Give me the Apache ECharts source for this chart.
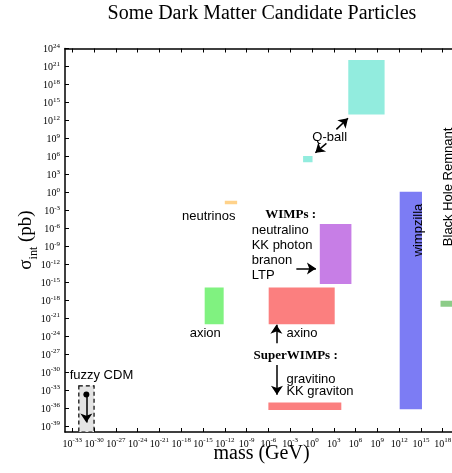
<!DOCTYPE html>
<html><head><meta charset="utf-8">
<script src="https://cdn.jsdelivr.net/npm/echarts@6/dist/echarts.min.js"></script>
<style>html,body{margin:0;padding:0;background:#fff}#c{width:452px;height:473px}</style>
</head><body><div id="c"></div>
<script>
// ---- data (mass in GeV, cross-section in pb) ----
const candidates = ['Q-ball (large)','Q-ball (small)','neutrinos','WIMPs','axion','axino','gravitino / KK graviton','wimpzilla','Black Hole Remnant','fuzzy CDM'];
const massLow   = [1e5, 6e-2, 1e-12, 1.2e1, 1.7e-15, 1.1e-6, 1e-6, 1.2e12, 5e17, 8e-33];
const massHigh  = [1e10, 1.2e0, 5e-11, 2.7e5, 7e-13, 1.35e3, 1.1e4, 1.4e15, 1e20, 1e-30];
const sigmaLow  = [1e13, 1e5, 1e-2, 5e-16, 1e-22, 1e-22, 4.5e-37, 6e-37, 8e-20, 1e-40];
const sigmaHigh = [1.2e22, 1.1e6, 4e-2, 5e-6, 1.3e-16, 1.3e-16, 8e-36, 1.2e0, 8e-19, 5e-33];
const colors    = ['#92ecde','#92ecde','#ffd28a','#c77ee6','#80f280','#fb7f7f','#fb7f7f','#7c7cf4','#8ccc88','#e4e4e4'];
const xTicks = [-33,-30,-27,-24,-21,-18,-15,-12,-9,-6,-3,0,3,6,9,12,15,18];
const yTicks = [-39,-36,-33,-30,-27,-24,-21,-18,-15,-12,-9,-6,-3,0,3,6,9,12,15,18,21,24];

const L = Math.log10;
const boxData = candidates.map((n,i)=>[L(massLow[i]),L(massHigh[i]),L(sigmaLow[i]),L(sigmaHigh[i])]);

const sans = 'Liberation Sans, Arial, sans-serif';
const serif = 'Liberation Serif, Times New Roman, serif';
const annotations = [
  {p:[2.44,9.14], t:'Q-ball', align:'center'},
  {p:[-14.22,-3.96], t:'neutrinos', align:'center'},
  {p:[-2.93,-3.8], t:'{h|WIMPs :}', align:'center'},
  {p:[-8.3,-6.3], t:'neutralino', align:'left'},
  {p:[-8.3,-8.9], t:'KK photon', align:'left'},
  {p:[-8.3,-11.4], t:'branon', align:'left'},
  {p:[-8.3,-13.8], t:'LTP', align:'left'},
  {p:[-14.7,-23.5], t:'axion', align:'center'},
  {p:[-3.52,-23.5], t:'axino', align:'left'},
  {p:[-2.24,-27.2], t:'{h|SuperWIMPs :}', align:'center'},
  {p:[-3.52,-31.2], t:'gravitino', align:'left'},
  {p:[-3.52,-33.3], t:'KK graviton', align:'left'},
  {p:[-33.36,-30.6], t:'fuzzy CDM', align:'left'},
  {p:[14.7,-6.3], t:'wimpzilla', align:'center', rot:true},
  {p:[18.75,0.9], t:'Black Hole Remnant', align:'center', rot:true}
];
const arrows = [
  [[3.36,10.51],[4.96,12.35]],
  [[1.99,8.17],[0.47,6.6]],
  [[-2.15,-12.7],[0.55,-12.7]],
  [[-4.9,-25.2],[-4.9,-22.1]],
  [[-4.82,-28.8],[-4.82,-33.8]]
];
const fuzzyArrow = [[-31.06,-33.73],[-31.06,-38.4]];

const supFmt = v => '{b|10}{s|' + v + '}';
const tickRich = {
  b:{fontFamily:serif,fontSize:10,color:'#000',lineHeight:12,verticalAlign:'bottom'},
  s:{fontFamily:serif,fontSize:7,color:'#000',lineHeight:12,verticalAlign:'top',padding:[0,0,6,0]}
};
function axisCommon(pos, showLabel, ticks, min, max){
  return {
    type:'value', position:pos, min:min, max:max,
    axisLine:{show:true,onZero:false,lineStyle:{color:'#000',width:1.5}},
    axisTick:{show:true,inside:true,length:4,customValues:ticks,lineStyle:{color:'#000',width:1}},
    axisLabel:{show:showLabel,customValues:ticks,formatter:supFmt,rich:tickRich,margin:5,hideOverlap:false},
    splitLine:{show:false}
  };
}

const chart = echarts.init(document.getElementById('c'), null, {renderer:'canvas'});
chart.setOption({
  animation:false,
  backgroundColor:'#fff',
  grid:{left:65, top:48.5, width:399.5, height:383.5, containLabel:false, outerBoundsMode:'none'},
  xAxis:[axisCommon('bottom',true,xTicks,-34,21), axisCommon('top',false,xTicks,-34,21)],
  yAxis:[axisCommon('left',true,yTicks,-40,24), axisCommon('right',false,yTicks,-40,24)],
  graphic:[
    {type:'text', x:262, y:14, style:{text:'Some Dark Matter Candidate Particles', font:'20px '+serif, fill:'#000', align:'center', verticalAlign:'middle'}},
    {type:'text', x:261.5, y:454, style:{text:'mass (GeV)', font:'20px '+serif, fill:'#000', align:'center', verticalAlign:'middle'}},
    {type:'text', x:25, y:240, rotation:Math.PI/2,
      style:{text:'{a|σ}{b|int}{a| (pb)}', align:'center', verticalAlign:'middle',
        rich:{a:{fontFamily:serif,fontSize:19,fill:'#000',lineHeight:22,verticalAlign:'bottom'},
              b:{fontFamily:serif,fontSize:12,fill:'#000',lineHeight:22,verticalAlign:'bottom',padding:[0,0,-4,0]}}}}
  ],
  series:[
    {
      type:'custom', data:boxData, clip:true, z:2,
      renderItem:function(params, api){
        const i = params.dataIndex;
        const p0 = api.coord([api.value(0), api.value(3)]);
        const p1 = api.coord([api.value(1), api.value(2)]);
        const fuzzy = candidates[i]==='fuzzy CDM';
        return {type:'rect', shape:{x:p0[0], y:p0[1], width:p1[0]-p0[0], height:p1[1]-p0[1]},
          style:{fill:colors[i], stroke: fuzzy?'#000':null, lineWidth: fuzzy?1.2:0, lineDash: fuzzy?[4,3]:null}};
      }
    },
    {
      type:'lines', coordinateSystem:'cartesian2d', z:5,
      symbol:['none','arrow'], symbolSize:[6,9],
      lineStyle:{color:'#000', width:1.5, opacity:1},
      data:arrows.map(c=>({coords:c}))
    },
    {
      type:'lines', coordinateSystem:'cartesian2d', z:5,
      symbol:['circle','arrow'], symbolSize:[6,9],
      lineStyle:{color:'#000', width:1.5, opacity:1},
      data:[{coords:fuzzyArrow}]
    },
    {
      type:'custom', data:annotations.map(a=>a.p), z:6, clip:false,
      renderItem:function(params, api){
        const a = annotations[params.dataIndex];
        const pt = api.coord([api.value(0), api.value(1)]);
        return {type:'text', x:pt[0], y:pt[1], rotation:a.rot?Math.PI/2:0,
          style:{text:a.t, font:'13px '+sans, fill:'#000', align:a.align, verticalAlign:'middle',
            rich:{h:{fontFamily:serif,fontSize:13,fontWeight:'bold',fill:'#000'}}}};
      }
    }
  ]
});
</script></body></html>
